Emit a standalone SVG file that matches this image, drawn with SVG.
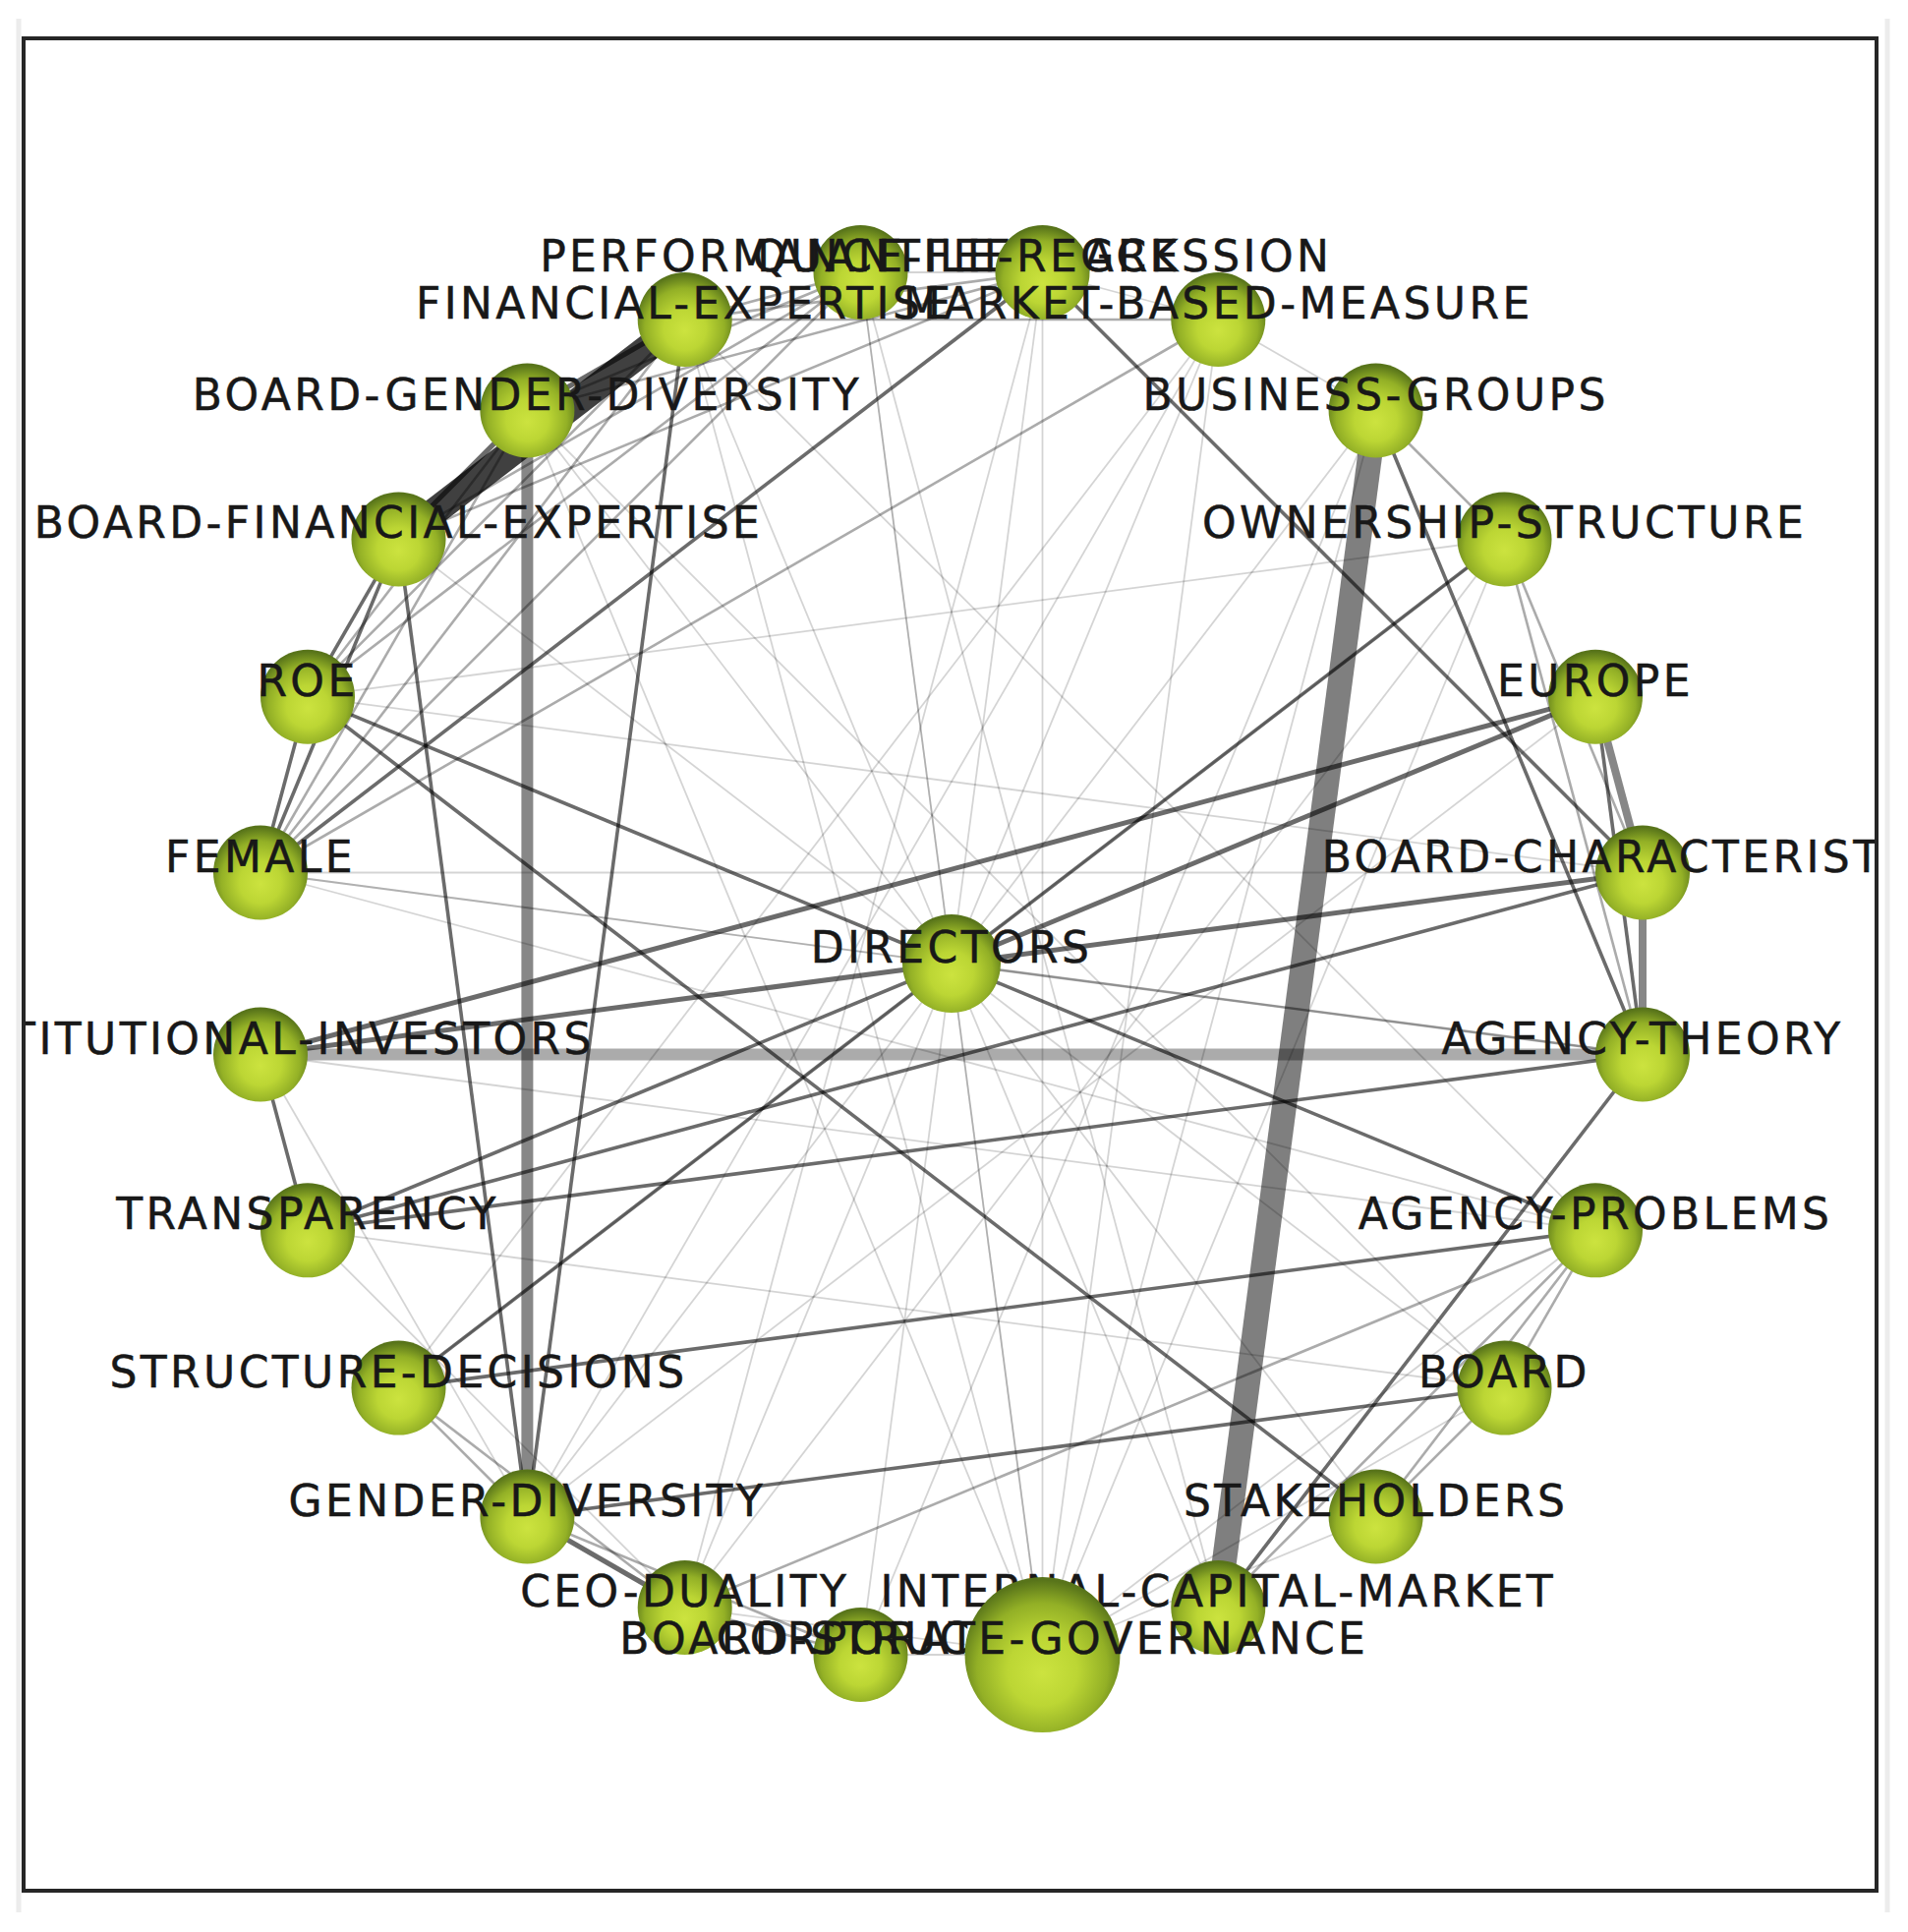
<svg xmlns="http://www.w3.org/2000/svg" width="1941" height="1965" viewBox="0 0 1941 1965">
<defs>
<radialGradient id="ball" cx="0.5" cy="0.58" r="0.56" fx="0.5" fy="0.62">
<stop offset="0" stop-color="#cce33f"/>
<stop offset="0.4" stop-color="#bcd634"/>
<stop offset="0.75" stop-color="#93b026"/>
<stop offset="1" stop-color="#58741a"/>
</radialGradient>
<clipPath id="frame"><rect x="26" y="41" width="1881" height="1880"/></clipPath>
<style>
.e{stroke:#000;stroke-linecap:butt;fill:none}
.L{stroke-width:1.8;stroke-opacity:0.17}
.M{stroke-width:2.6;stroke-opacity:0.33}
.K{stroke-width:3.6;stroke-opacity:0.58}
.H{stroke-width:5;stroke-opacity:0.58}
.node circle{fill:url(#ball)}
.node text{font-family:"DejaVu Sans",sans-serif;font-size:44px;letter-spacing:3.4px;fill:#181818;stroke:#181818;stroke-width:0.5px;text-anchor:middle}
</style>
</defs>
<rect x="0" y="0" width="1941" height="1965" fill="#ffffff"/>
<line x1="19" y1="19" x2="19" y2="1945" stroke="#ececec" stroke-width="5"/>
<line x1="1920" y1="19" x2="1920" y2="1945" stroke="#ececec" stroke-width="5"/>
<g clip-path="url(#frame)">
<g id="connectors">
<line class="e L" x1="968" y1="980" x2="1060.5" y2="277"/>
<line class="e L" x1="968" y1="980" x2="875.5" y2="277"/>
<line class="e L" x1="968" y1="980" x2="1239.3" y2="325"/>
<line class="e L" x1="968" y1="980" x2="1399.6" y2="417.5"/>
<line class="e L" x1="968" y1="980" x2="696.7" y2="325"/>
<line class="e L" x1="968" y1="980" x2="536.4" y2="417.5"/>
<line class="e L" x1="968" y1="980" x2="405.5" y2="548.4"/>
<line class="e L" x1="968" y1="980" x2="265" y2="887.5"/>
<line class="e L" x1="968" y1="980" x2="1530.5" y2="1411.6"/>
<line class="e L" x1="968" y1="980" x2="1399.6" y2="1542.5"/>
<line class="e L" x1="968" y1="980" x2="1239.3" y2="1635"/>
<line class="e L" x1="968" y1="980" x2="1060.5" y2="1683"/>
<line class="e L" x1="968" y1="980" x2="875.5" y2="1683"/>
<line class="e L" x1="968" y1="980" x2="696.7" y2="1635"/>
<line class="e L" x1="968" y1="980" x2="536.4" y2="1542.5"/>
<line class="e L" x1="1060.5" y1="277" x2="875.5" y2="277"/>
<line class="e L" x1="1060.5" y1="277" x2="1239.3" y2="325"/>
<line class="e L" x1="1239.3" y1="325" x2="1399.6" y2="417.5"/>
<line class="e L" x1="313" y1="708.7" x2="1530.5" y2="548.4"/>
<line class="e L" x1="1060.5" y1="1683" x2="1060.5" y2="277"/>
<line class="e L" x1="1060.5" y1="1683" x2="1239.3" y2="325"/>
<line class="e L" x1="1060.5" y1="1683" x2="1399.6" y2="417.5"/>
<line class="e L" x1="1060.5" y1="1683" x2="1530.5" y2="548.4"/>
<line class="e L" x1="1060.5" y1="1683" x2="696.7" y2="325"/>
<line class="e L" x1="1060.5" y1="1683" x2="536.4" y2="417.5"/>
<line class="e L" x1="1060.5" y1="1683" x2="875.5" y2="277"/>
<line class="e L" x1="1060.5" y1="1683" x2="1623" y2="1251.3"/>
<line class="e L" x1="1060.5" y1="1683" x2="1530.5" y2="1411.6"/>
<line class="e L" x1="1060.5" y1="1683" x2="1399.6" y2="1542.5"/>
<line class="e L" x1="1060.5" y1="1683" x2="696.7" y2="1635"/>
<line class="e L" x1="1060.5" y1="1683" x2="875.5" y2="1683"/>
<line class="e L" x1="265" y1="887.5" x2="1671" y2="1072.5"/>
<line class="e L" x1="265" y1="887.5" x2="1623" y2="1251.3"/>
<line class="e L" x1="265" y1="1072.5" x2="1623" y2="1251.3"/>
<line class="e L" x1="313" y1="1251.3" x2="1530.5" y2="1411.6"/>
<line class="e L" x1="265" y1="887.5" x2="1671" y2="887.5"/>
<line class="e L" x1="313" y1="708.7" x2="1671" y2="887.5"/>
<line class="e L" x1="1239.3" y1="325" x2="536.4" y2="1542.5"/>
<line class="e L" x1="1530.5" y1="548.4" x2="405.5" y2="1411.6"/>
<line class="e L" x1="1623" y1="708.7" x2="536.4" y2="1542.5"/>
<line class="e L" x1="875.5" y1="277" x2="1239.3" y2="1635"/>
<line class="e L" x1="1060.5" y1="277" x2="696.7" y2="1635"/>
<line class="e L" x1="1399.6" y1="417.5" x2="875.5" y2="1683"/>
<line class="e L" x1="1530.5" y1="548.4" x2="696.7" y2="1635"/>
<line class="e L" x1="1239.3" y1="325" x2="405.5" y2="1411.6"/>
<line class="e L" x1="265" y1="1072.5" x2="536.4" y2="1542.5"/>
<line class="e L" x1="313" y1="1251.3" x2="696.7" y2="1635"/>
<line class="e L" x1="536.4" y1="417.5" x2="1530.5" y2="1411.6"/>
<line class="e L" x1="696.7" y1="325" x2="1623" y2="1251.3"/>
<line class="e M" x1="265" y1="887.5" x2="1239.3" y2="325"/>
<line class="e M" x1="968" y1="980" x2="1671" y2="1072.5"/>
<line class="e M" x1="405.5" y1="1411.6" x2="696.7" y2="1635"/>
<line class="e M" x1="536.4" y1="1542.5" x2="875.5" y2="1683"/>
<line class="e M" x1="696.7" y1="1635" x2="875.5" y2="1683"/>
<line class="e M" x1="265" y1="887.5" x2="536.4" y2="417.5"/>
<line class="e M" x1="265" y1="887.5" x2="696.7" y2="325"/>
<line class="e M" x1="265" y1="887.5" x2="875.5" y2="277"/>
<line class="e M" x1="313" y1="708.7" x2="536.4" y2="417.5"/>
<line class="e M" x1="313" y1="708.7" x2="696.7" y2="325"/>
<line class="e M" x1="313" y1="708.7" x2="875.5" y2="277"/>
<line class="e M" x1="405.5" y1="548.4" x2="875.5" y2="277"/>
<line class="e M" x1="405.5" y1="548.4" x2="1060.5" y2="277"/>
<line class="e M" x1="536.4" y1="417.5" x2="875.5" y2="277"/>
<line class="e M" x1="536.4" y1="417.5" x2="1060.5" y2="277"/>
<line class="e M" x1="696.7" y1="325" x2="875.5" y2="277"/>
<line class="e M" x1="696.7" y1="325" x2="1060.5" y2="277"/>
<line class="e M" x1="696.7" y1="325" x2="1239.3" y2="325"/>
<line class="e M" x1="1530.5" y1="548.4" x2="1671" y2="887.5"/>
<line class="e M" x1="1530.5" y1="548.4" x2="1671" y2="1072.5"/>
<line class="e M" x1="1399.6" y1="417.5" x2="1530.5" y2="548.4"/>
<line class="e M" x1="696.7" y1="1635" x2="1623" y2="1251.3"/>
<line class="e M" x1="1623" y1="1251.3" x2="1530.5" y2="1411.6"/>
<line class="e M" x1="1530.5" y1="1411.6" x2="1399.6" y2="1542.5"/>
<line class="e M" x1="1399.6" y1="1542.5" x2="1623" y2="1251.3"/>
<line class="e M" x1="1239.3" y1="1635" x2="1623" y2="1251.3"/>
<line class="e M" x1="405.5" y1="1411.6" x2="536.4" y2="1542.5"/>
<line class="e K" x1="968" y1="980" x2="405.5" y2="1411.6"/>
<line class="e K" x1="968" y1="980" x2="313" y2="708.7"/>
<line class="e K" x1="968" y1="980" x2="1623" y2="1251.3"/>
<line class="e K" x1="968" y1="980" x2="313" y2="1251.3"/>
<line class="e K" x1="968" y1="980" x2="1530.5" y2="548.4"/>
<line class="e K" x1="313" y1="1251.3" x2="1671" y2="887.5"/>
<line class="e K" x1="313" y1="1251.3" x2="1671" y2="1072.5"/>
<line class="e K" x1="313" y1="708.7" x2="1399.6" y2="1542.5"/>
<line class="e K" x1="405.5" y1="1411.6" x2="1623" y2="1251.3"/>
<line class="e K" x1="536.4" y1="1542.5" x2="1530.5" y2="1411.6"/>
<line class="e K" x1="405.5" y1="548.4" x2="536.4" y2="1542.5"/>
<line class="e K" x1="696.7" y1="325" x2="536.4" y2="1542.5"/>
<line class="e K" x1="265" y1="1072.5" x2="313" y2="1251.3"/>
<line class="e K" x1="1060.5" y1="277" x2="1671" y2="887.5"/>
<line class="e K" x1="1399.6" y1="417.5" x2="1671" y2="1072.5"/>
<line class="e K" x1="1671" y1="1072.5" x2="1239.3" y2="1635"/>
<line class="e K" x1="1623" y1="708.7" x2="1671" y2="1072.5"/>
<line class="e K" x1="265" y1="887.5" x2="313" y2="708.7"/>
<line class="e K" x1="265" y1="887.5" x2="405.5" y2="548.4"/>
<line class="e K" x1="265" y1="887.5" x2="1060.5" y2="277"/>
<line class="e K" x1="313" y1="708.7" x2="405.5" y2="548.4"/>
<line class="e H" x1="968" y1="980" x2="265" y2="1072.5"/>
<line class="e H" x1="968" y1="980" x2="1671" y2="887.5"/>
<line class="e H" x1="968" y1="980" x2="1623" y2="708.7"/>
<line class="e H" x1="265" y1="1072.5" x2="1623" y2="708.7"/>
<line class="e H" x1="405.5" y1="548.4" x2="536.4" y2="417.5"/>
<line class="e H" x1="536.4" y1="417.5" x2="696.7" y2="325"/>
<line class="e H" x1="536.4" y1="1542.5" x2="696.7" y2="1635"/>
<line class="e" x1="265" y1="1072.5" x2="1671" y2="1072.5" stroke-width="12" stroke-opacity="0.33"/>
<line class="e" x1="1623" y1="708.7" x2="1671" y2="887.5" stroke-width="8" stroke-opacity="0.47"/>
<line class="e" x1="1671" y1="887.5" x2="1671" y2="1072.5" stroke-width="8" stroke-opacity="0.47"/>
<line class="e" x1="536.4" y1="417.5" x2="536.4" y2="1542.5" stroke-width="12" stroke-opacity="0.47"/>
<line class="e" x1="1399.6" y1="417.5" x2="1239.3" y2="1635" stroke-width="25" stroke-opacity="0.5"/>
<line class="e" x1="405.5" y1="548.4" x2="696.7" y2="325" stroke-width="28" stroke-opacity="0.75"/>
</g>
<g id="nodes">
<g id="node-directors" class="node"><circle cx="968" cy="980" r="50"/><text x="968" y="979">DIRECTORS</text></g>
<g id="node-performance-feedback" class="node"><circle cx="875.5" cy="277" r="48"/><text x="875.5" y="276">PERFORMANCE-FEEDBACK</text></g>
<g id="node-quantile-regression" class="node"><circle cx="1060.5" cy="277" r="48"/><text x="1060.5" y="276">QUANTILE-REGRESSION</text></g>
<g id="node-financial-expertise" class="node"><circle cx="696.7" cy="325" r="48"/><text x="696.7" y="324">FINANCIAL-EXPERTISE</text></g>
<g id="node-market-based-measure" class="node"><circle cx="1239.3" cy="325" r="48"/><text x="1239.3" y="324">MARKET-BASED-MEASURE</text></g>
<g id="node-business-groups" class="node"><circle cx="1399.6" cy="417.5" r="48"/><text x="1399.6" y="416.5">BUSINESS-GROUPS</text></g>
<g id="node-ownership-structure" class="node"><circle cx="1530.5" cy="548.4" r="48"/><text x="1530.5" y="547.4">OWNERSHIP-STRUCTURE</text></g>
<g id="node-europe" class="node"><circle cx="1623" cy="708.7" r="48"/><text x="1623" y="707.7">EUROPE</text></g>
<g id="node-board-characteristics" class="node"><circle cx="1671" cy="887.5" r="48"/><text x="1671" y="886.5">BOARD-CHARACTERISTICS</text></g>
<g id="node-agency-theory" class="node"><circle cx="1671" cy="1072.5" r="48"/><text x="1671" y="1071.5">AGENCY-THEORY</text></g>
<g id="node-agency-problems" class="node"><circle cx="1623" cy="1251.3" r="48"/><text x="1623" y="1250.3">AGENCY-PROBLEMS</text></g>
<g id="node-board" class="node"><circle cx="1530.5" cy="1411.6" r="48"/><text x="1530.5" y="1410.6">BOARD</text></g>
<g id="node-stakeholders" class="node"><circle cx="1399.6" cy="1542.5" r="48"/><text x="1399.6" y="1541.5">STAKEHOLDERS</text></g>
<g id="node-ceo-duality" class="node"><circle cx="696.7" cy="1635" r="48"/><text x="696.7" y="1634">CEO-DUALITY</text></g>
<g id="node-board-structure" class="node"><circle cx="875.5" cy="1683" r="48"/><text x="875.5" y="1682">BOARD-STRUCTURE</text></g>
<g id="node-internal-capital-market" class="node"><circle cx="1239.3" cy="1635" r="48"/><text x="1239.3" y="1634">INTERNAL-CAPITAL-MARKET</text></g>
<g id="node-corporate-governance" class="node"><circle cx="1060.5" cy="1683" r="79"/><text x="1060.5" y="1682">CORPORATE-GOVERNANCE</text></g>
<g id="node-gender-diversity" class="node"><circle cx="536.4" cy="1542.5" r="48"/><text x="536.4" y="1541.5">GENDER-DIVERSITY</text></g>
<g id="node-structure-decisions" class="node"><circle cx="405.5" cy="1411.6" r="48"/><text x="405.5" y="1410.6">STRUCTURE-DECISIONS</text></g>
<g id="node-transparency" class="node"><circle cx="313" cy="1251.3" r="48"/><text x="313" y="1250.3">TRANSPARENCY</text></g>
<g id="node-institutional-investors" class="node"><circle cx="265" cy="1072.5" r="48"/><text x="265" y="1071.5">INSTITUTIONAL-INVESTORS</text></g>
<g id="node-female" class="node"><circle cx="265" cy="887.5" r="48"/><text x="265" y="886.5">FEMALE</text></g>
<g id="node-roe" class="node"><circle cx="313" cy="708.7" r="48"/><text x="313" y="707.7">ROE</text></g>
<g id="node-board-financial-expertise" class="node"><circle cx="405.5" cy="548.4" r="48"/><text x="405.5" y="547.4">BOARD-FINANCIAL-EXPERTISE</text></g>
<g id="node-board-gender-diversity" class="node"><circle cx="536.4" cy="417.5" r="48"/><text x="536.4" y="416.5">BOARD-GENDER-DIVERSITY</text></g>
</g>
</g>
<rect x="24" y="39" width="1885" height="1884" fill="none" stroke="#262626" stroke-width="4"/>
</svg>
